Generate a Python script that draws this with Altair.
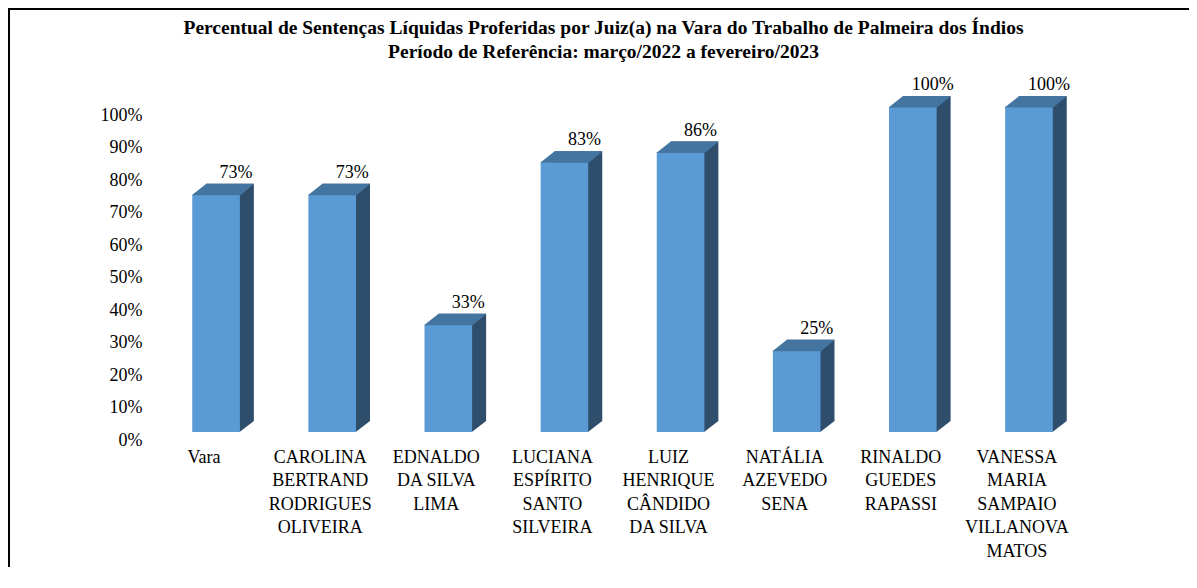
import altair as alt
import pandas as pd

names = [
    "Vara",
    "CAROLINA|BERTRAND|RODRIGUES|OLIVEIRA",
    "EDNALDO|DA SILVA|LIMA",
    "LUCIANA|ESPÍRITO|SANTO|SILVEIRA",
    "LUIZ|HENRIQUE|CÂNDIDO|DA SILVA",
    "NATÁLIA|AZEVEDO|SENA",
    "RINALDO|GUEDES|RAPASSI",
    "VANESSA|MARIA|SAMPAIO|VILLANOVA|MATOS",
]
values = [73, 73, 33, 83, 86, 25, 100, 100]
title_lines = [
    "Percentual de Sentenças Líquidas Proferidas por Juiz(a) na Vara do Trabalho de Palmeira dos Índios",
    "Período de Referência: março/2022 a fevereiro/2023",
]

df = pd.DataFrame({"name": names, "value": values})
df["zero"] = 0

W, H = 929, 325
PAD_IN = 0.59
step = W / 8
half = step * (1 - PAD_IN) / 2
DX, DY = 14, 11
FONT = "Liberation Serif"
FS = 18
FRONT, TOP, SIDE = "#5b9bd5", "#4474a0", "#2f4e6c"

top_path = (f"M {-half-0.5} 0.6 L {half+0.5} 0.6 L {half+DX+0.3} {-DY} "
            f"L {-half+DX} {-DY} Z")
tri_path = f"M {half-0.6} 0.3 L {half-0.6} {-DY} L {half+DX} {-DY} Z"

xenc = alt.X("name:N", sort=None,
             scale=alt.Scale(paddingInner=PAD_IN, paddingOuter=PAD_IN / 2),
             axis=alt.Axis(title=None, labelAngle=0, domain=False, ticks=False,
                           tickSize=0, labelExpr="split(datum.label, '|')",
                           labelFont=FONT, labelFontSize=FS, labelColor="black",
                           labelLineHeight=23.5, labelBaseline="alphabetic",
                           labelPadding=30, labelOffset=-12, labelOverlap=False))
yaxis = alt.Axis(title=None, values=list(range(0, 101, 10)),
                 labelExpr="datum.value + '%'", domain=False,
                 ticks=False, tickSize=0, grid=False, labelOverlap=False,
                 labelFont=FONT, labelFontSize=FS, labelColor="black",
                 labelPadding=16, labelOffset=8)
yscale = alt.Scale(domain=[0, 100])
yenc = alt.Y("value:Q", scale=yscale, axis=yaxis, title=None)
yzero = alt.Y("zero:Q", scale=yscale, axis=yaxis, title=None)

base = alt.Chart(df)

side = base.mark_bar(color=SIDE, xOffset=DX, yOffset=-DY).encode(x=xenc, y=yenc)
tri = base.mark_point(shape=tri_path, size=4, filled=True, opacity=1,
                      strokeWidth=0, color=SIDE).encode(x=xenc, y=yzero)
front = base.mark_bar(color=FRONT).encode(x=xenc, y=yenc)
topf = base.mark_point(shape=top_path, size=4, filled=True, opacity=1,
                       strokeWidth=0, color=TOP).encode(x=xenc, y=yenc)
labels = base.mark_text(font=FONT, fontSize=FS, color="black", dx=20, dy=-17,
                        baseline="alphabetic", align="center").encode(
    x=xenc, y=yenc, text=alt.Text("label:N")
).transform_calculate(label="datum.value + '%'")

one = alt.Chart(alt.Data(values=[{}]))
border = one.mark_rect(fill=None, stroke="black", strokeWidth=2).encode(
    x=alt.value(-149), y=alt.value(-98), x2=alt.value(1200), y2=alt.value(700))
title = one.mark_text(text=title_lines, font=FONT, fontSize=19.5, fontWeight="bold",
                      lineHeight=24, align="center", baseline="alphabetic",
                      color="black").encode(x=alt.value(445.5), y=alt.value(-73))

chart = alt.layer(border, side, tri, front, topf, labels, title).properties(
    width=W, height=H,
    background="white",
    autosize=alt.AutoSizeParams(type="none"),
    padding={"left": 150, "top": 99, "right": 102, "bottom": 135},
).configure_view(strokeOpacity=0, strokeWidth=0)

chart.save("out.html", embed_options={"renderer": "svg", "actions": False})
